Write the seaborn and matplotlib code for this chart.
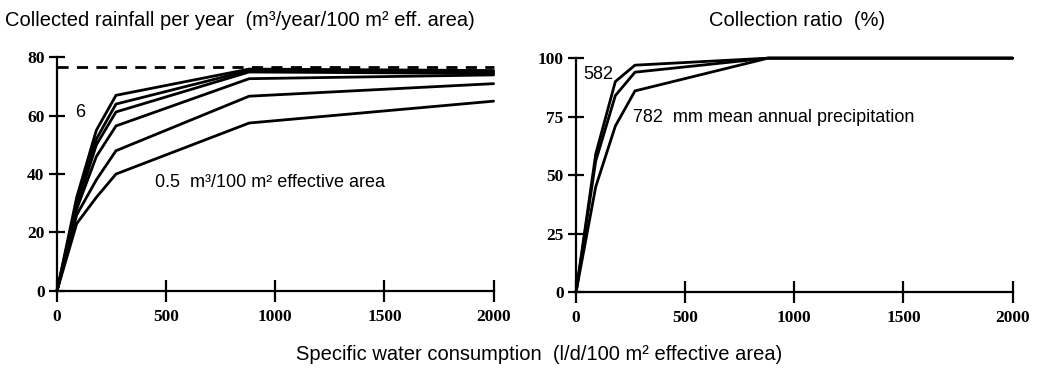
import matplotlib
matplotlib.use('Agg')
import matplotlib.pyplot as plt
import seaborn as sns
import pandas as pd

# consumption (l/d/100 m2 effective area)
consumption = [0, 90, 180, 270, 880, 2000]

# collected rainfall per year, one curve per storage volume (m3/100 m2), 0.5 ... 6
rain_05 = [0, 23, 32, 40, 57.5, 65]
rain_1 = [0, 26, 38, 48, 66.7, 71]
rain_2 = [0, 28, 46, 56.5, 72.7, 74]
rain_3 = [0, 29, 50, 61.3, 75, 74.5]
rain_4 = [0, 30, 52, 64, 75.5, 75]
rain_6 = [0, 32, 55, 67, 76, 75.5]
rain_max = [76.7, 76.7]
rain_max_x = [0, 2000]

# collection ratio (%) for three mean annual precipitations
ratio_582 = [0, 59, 90, 97, 100, 100]
ratio_682 = [0, 56, 84, 94, 100, 100]
ratio_782 = [0, 45, 71, 86, 100, 100]

rain_df = pd.DataFrame({'x': consumption * 6,
                        'y': rain_05 + rain_1 + rain_2 + rain_3 + rain_4 + rain_6,
                        'vol': sum([[v] * 6 for v in ['0.5', '1', '2', '3', '4', '6']], [])})
ratio_df = pd.DataFrame({'x': consumption * 3,
                         'y': ratio_582 + ratio_682 + ratio_782,
                         'p': sum([[v] * 6 for v in ['582', '682', '782']], [])})

sns.set_style('ticks')
plt.rcParams['font.family'] = ['Liberation Sans', 'DejaVu Sans']
plt.rcParams['text.color'] = 'black'

fig = plt.figure(figsize=(10.37, 3.68), dpi=100)
ax1 = fig.add_axes([0.055, 0.21, 0.421, 0.634])
ax2 = fig.add_axes([0.5555, 0.206, 0.421, 0.636])

sns.lineplot(data=rain_df, x='x', y='y', units='vol', estimator=None, color='black',
             linewidth=2, ax=ax1, clip_on=False)
sns.lineplot(x=rain_max_x, y=rain_max, color='black', linewidth=2, linestyle=(0, (4, 3)),
             ax=ax1, clip_on=False)
sns.lineplot(data=ratio_df, x='x', y='y', units='p', estimator=None, color='black',
             linewidth=2, ax=ax2, clip_on=False)

for ax, top, step in [(ax1, 80, 20), (ax2, 100, 25)]:
    ax.set_xlim(0, 2000)
    ax.set_ylim(0, top)
    ax.set_xticks([0, 500, 1000, 1500, 2000])
    ax.set_yticks(list(range(0, top + 1, step)))
    ax.set_xlabel('')
    ax.set_ylabel('')
    for s in ['top', 'right']:
        ax.spines[s].set_visible(False)
    for s in ['left', 'bottom']:
        ax.spines[s].set_linewidth(1.6)
        ax.spines[s].set_color('black')
    ax.tick_params(direction='inout', width=1.6, colors='black')
    ax.tick_params(axis='x', length=16, pad=5)
    ax.tick_params(axis='y', length=12, pad=3)
    for lab in ax.get_xticklabels() + ax.get_yticklabels():
        lab.set_fontfamily('Liberation Serif')
        lab.set_fontweight('bold')
        lab.set_fontsize(12.5)
    ax.patch.set_alpha(0)

ax1.text(84, 61, '6', fontsize=13, va='center')
ax1.text(448, 37, '0.5  m\u00b3/100 m\u00b2 effective area', fontsize=13, va='center')
ax2.text(32, 93, '582', fontsize=13, va='center')
ax2.text(261, 74.5, '782  mm mean annual precipitation', fontsize=13, va='center')

fig.text(0.005, 0.945, 'Collected rainfall per year  (m\u00b3/year/100 m\u00b2 eff. area)',
         fontsize=14.5, va='center')
fig.text(0.769, 0.945, 'Collection ratio  (%)', fontsize=14.5, va='center', ha='center')
fig.text(0.52, 0.038, 'Specific water consumption  (l/d/100 m\u00b2 effective area)',
         fontsize=14.5, va='center', ha='center')

fig.savefig('out.png', dpi=100)
